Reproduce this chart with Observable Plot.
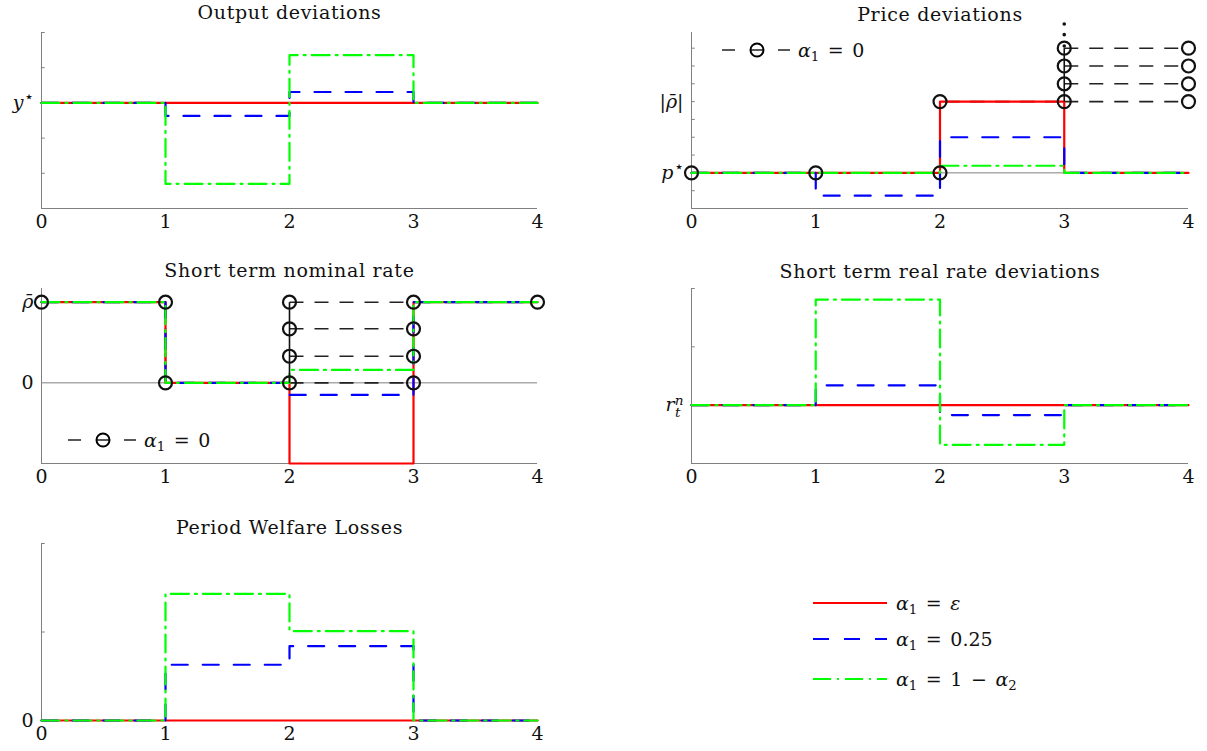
<!DOCTYPE html>
<html><head><meta charset="utf-8">
<script src="https://cdn.jsdelivr.net/npm/d3@7"></script>
<script src="https://cdn.jsdelivr.net/npm/@observablehq/plot@0.6"></script>
<style>
body{margin:0;background:#fff;}
#root{position:relative;width:1207px;height:751px;font-family:"DejaVu Serif";color:#000;overflow:hidden;}
.leg{position:absolute;display:flex;align-items:center;font-size:19px;white-space:nowrap;font-family:"DejaVu Serif";color:#111;}
.leg sub{font-size:0.7em;vertical-align:-0.3em;line-height:0;}
.leg i{font-style:italic;}
.leg .eq{margin:0 0.45em;}
g[aria-label="text"] text{letter-spacing:0.7px;}
</style></head><body><div id="root"></div>
<script>
// ---------- data ----------
const periods = [0, 1, 2, 3, 4];
const xTicks = [0, 1, 2, 3, 4];

// Output deviations
const outTicks = [0];
const outLabels = ["y⋆"];
const outMinor = [-2, -1, 0, 1, 2];
const outRed   = [0, 0, 0, 0, 0];
const outBlue  = [0, -0.37, 0.31, 0, 0];
const outGreen = [0, -2.30, 1.36, 0, 0];

// Price deviations
const priceTicks = [0, 1];
const priceLabels = ["p⋆", "|ρ̄|"];
const priceMinor = [-0.25, 0, 0.25, 0.5, 0.75, 1, 1.25, 1.5, 1.75];
const priceRed   = [0, 0, 1, 0, 0];
const priceBlue  = [0, -0.32, 0.5, 0, 0];
const priceGreen = [0, 0, 0.1, 0, 0];
const priceBlackT = [0, 1, 2, 3];
const priceBlack  = [0, 0, 1, 1];
const priceBranchLevels = [1, 1.25, 1.5, 1.75];
const priceBranchFrom = 3, priceBranchTo = 4;
const priceDots = [1.78, 1.94, 2.09];
const priceCircleX = [0, 1, 2, 2, 3, 3, 3, 3, 4, 4, 4, 4];
const priceCircleY = [0, 0, 0, 1, 1, 1.25, 1.5, 1.75, 1, 1.25, 1.5, 1.75];

// Short term nominal rate
const nomTicks = [0, 1];
const nomLabels = ["0", "ρ̄"];
const nomMinor = [];
const nomRed   = [1, 0, -1, 1, 1];
const nomBlue  = [1, 0, -0.15, 1, 1];
const nomGreen = [1, 0, 0.16, 1, 1];
const nomBlackT = [0, 1, 2];
const nomBlack  = [1, 0, 0];
const nomBranchLevels = [0, 0.33, 0.67, 1];
const nomBranchFrom = 2, nomBranchTo = 3;
const nomTailT = [3, 4];
const nomTail  = [1, 1];
const nomCircleX = [0, 1, 1, 2, 2, 2, 2, 3, 3, 3, 3, 4];
const nomCircleY = [1, 1, 0, 0, 0.33, 0.67, 1, 0, 0.33, 0.67, 1, 1];

// Short term real rate deviations
const realTicks = [0];
const realLabels = ["rtn"];
const realMinor = [-1, 0, 1, 2];
const realRed   = [0, 0, 0, 0, 0];
const realBlue  = [0, 0.34, -0.17, 0, 0];
const realGreen = [0, 1.81, -0.68, 0, 0];

// Period welfare losses
const welTicks = [0];
const welLabels = ["0"];
const welMinor = [0, 1, 2];
const welRed   = [0, 0, 0, 0, 0];
const welBlue  = [0, 0.63, 0.84, 0, 0];
const welGreen = [0, 1.43, 1.01, 0, 0];

// ---------- styles ----------
const RED = "#ff0000", BLUE = "#0000ff", GREEN = "#00ff00", AXIS = "#808080", BLACK = "#111";
const styleRed = {stroke: RED, strokeWidth: 2.2};
const styleBlue = {stroke: BLUE, strokeWidth: 2.2, strokeDasharray: "16,15"};
const styleGreen = {stroke: GREEN, strokeWidth: 2.2, strokeDasharray: "18,6,2,6"};

const root = document.getElementById("root");

function rows(xs, ys) { return xs.map((x, i) => ({x, y: ys[i]})); }

function richLabel(el, label) {
  const s = d3.select(el);
  s.text("");
  const it = (txt) => s.append("tspan").attr("font-style", "italic").text(txt);
  if (label === "y⋆" || label === "p⋆") {
    it(label[0]);
    s.append("tspan").attr("dy", "-0.45em").attr("font-size", "0.85em").text("⋆");
  } else if (label === "|ρ̄|") {
    s.append("tspan").text("|");
    it("ρ̄");
    s.append("tspan").text("|");
  } else if (label === "ρ̄") {
    it("ρ̄");
  } else if (label === "rtn") {
    it("r");
    s.append("tspan").attr("font-style", "italic").attr("font-size", "0.72em").attr("dy", "-0.45em").text("n");
    s.append("tspan").attr("font-style", "italic").attr("font-size", "0.72em").attr("dx", "-0.62em").attr("dy", "0.85em").text("t");
  } else {
    s.text(label);
  }
}

function panel(cfg) {
  const {left, top, width, height, ml, mr, mt, mb, yDomain, title, titleDy,
         ticks, labels, minor, zero, red, blue, green, extra = []} = cfg;
  const marks = [
    Plot.ruleX([0], {stroke: AXIS, strokeWidth: 1}),
    Plot.ruleY([yDomain[0]], {stroke: AXIS, strokeWidth: 1}),
    ...(zero ? [Plot.ruleY([0], {stroke: AXIS, strokeWidth: 1})] : []),
    Plot.ruleY(minor, {x1: 0, x2: 0.03, stroke: AXIS, strokeWidth: 1}),
    ...extra.filter(m => m.layer === "under").map(m => m.mark),
    Plot.line(rows(periods, red), {x: "x", y: "y", curve: "step-after", ...styleRed}),
    Plot.line(rows(periods, blue), {x: "x", y: "y", curve: "step-after", ...styleBlue}),
    Plot.line(rows(periods, green), {x: "x", y: "y", curve: "step-after", ...styleGreen}),
    ...extra.filter(m => m.layer === "over").map(m => m.mark),
    Plot.text([title], {frameAnchor: "top", lineAnchor: "middle", dy: titleDy, fontSize: 19, fill: "#111"})
  ];
  const chart = Plot.plot({
    width, height, marginLeft: ml, marginRight: mr, marginTop: mt, marginBottom: mb,
    style: {fontFamily: "DejaVu Serif", fontSize: "19px", background: "transparent", overflow: "visible", color: "#111"},
    x: {domain: [0, 4], ticks: xTicks, tickSize: 0, tickPadding: 6, label: null, tickFormat: d => String(d)},
    y: {domain: yDomain, ticks, tickSize: 0, tickPadding: 8, label: null,
        tickFormat: d => labels[ticks.indexOf(d)]},
    marks
  });
  chart.style.position = "absolute";
  chart.style.left = left + "px";
  chart.style.top = top + "px";
  chart.querySelectorAll('g[aria-label="y-axis tick label"] text').forEach(el => {
    richLabel(el, el.textContent);
  });
  root.appendChild(chart);
}

function blackMarks(pathT, pathY, levels, from, to, cx, cy, dots, tailT, tailY) {
  const dash = {stroke: "#222", strokeWidth: 1.6, strokeDasharray: "14,11"};
  const list = [
    {layer: "under", mark: Plot.line(rows(pathT, pathY), {x: "x", y: "y", curve: "step-after", ...dash})},
    {layer: "under", mark: Plot.link(levels, {x1: () => from, x2: () => to, y1: d => d, y2: d => d, ...dash})},
    {layer: "over", mark: Plot.link([levels], {x1: () => from, x2: () => from, y1: d => d3.min(d), y2: d => d3.max(d), stroke: BLACK, strokeWidth: 1.6})},
    {layer: "over", mark: Plot.dot(rows(cx, cy), {x: "x", y: "y", r: 6.5, stroke: BLACK, strokeWidth: 2.2, fill: "none"})}
  ];
  if (tailT) list.push({layer: "under", mark: Plot.line(rows(tailT, tailY), {x: "x", y: "y", ...dash})});
  if (dots) list.push({layer: "over", mark: Plot.dot(dots, {x: () => from, y: d => d, r: 1.8, fill: BLACK})});
  return list;
}

panel({left: 0, top: 0, width: 580, height: 240, ml: 41, mr: 43, mt: 32, mb: 32,
  yDomain: [-3, 2], title: "Output deviations", titleDy: -20,
  ticks: outTicks, labels: outLabels, minor: outMinor, zero: false,
  red: outRed, blue: outBlue, green: outGreen});

panel({left: 620, top: 0, width: 587, height: 240, ml: 71, mr: 19, mt: 32, mb: 32,
  yDomain: [-0.5, 1.97], title: "Price deviations", titleDy: -18,
  ticks: priceTicks, labels: priceLabels, minor: priceMinor, zero: true,
  red: priceRed, blue: priceBlue, green: priceGreen,
  extra: blackMarks(priceBlackT, priceBlack, priceBranchLevels, priceBranchFrom, priceBranchTo,
                    priceCircleX, priceCircleY, priceDots)});

panel({left: 0, top: 256, width: 580, height: 240, ml: 41, mr: 43, mt: 32, mb: 33,
  yDomain: [-1, 1.17], title: "Short term nominal rate", titleDy: -18,
  ticks: nomTicks, labels: nomLabels, minor: nomMinor, zero: true,
  red: nomRed, blue: nomBlue, green: nomGreen,
  extra: blackMarks(nomBlackT, nomBlack, nomBranchLevels, nomBranchFrom, nomBranchTo,
                    nomCircleX, nomCircleY, null, nomTailT, nomTail)});

panel({left: 620, top: 256, width: 587, height: 240, ml: 71, mr: 19, mt: 32, mb: 33,
  yDomain: [-1, 2], title: "Short term real rate deviations", titleDy: -17,
  ticks: realTicks, labels: realLabels, minor: realMinor, zero: false,
  red: realRed, blue: realBlue, green: realGreen});

panel({left: 0, top: 512, width: 580, height: 239, ml: 41, mr: 43, mt: 31, mb: 31,
  yDomain: [0, 2], title: "Period Welfare Losses", titleDy: -16,
  ticks: welTicks, labels: welLabels, minor: welMinor, zero: false,
  red: welRed, blue: welBlue, green: welGreen});

// ---------- legends ----------
function addLegend(left, top, svgInner, svgW, html, gap) {
  const d = document.createElement("div");
  d.className = "leg";
  d.style.left = left + "px";
  d.style.top = top + "px";
  d.innerHTML = `<svg width="${svgW}" height="24" style="overflow:visible">${svgInner}</svg><span style="margin-left:${gap}px">${html}</span>`;
  root.appendChild(d);
}
const zeroSample = `<line x1="2" x2="70" y1="12" y2="12" stroke="#222" stroke-width="1.6" stroke-dasharray="13,15"/><circle cx="37" cy="12" r="6.5" fill="none" stroke="#000" stroke-width="2"/>`;
const zeroText = `<i>α</i><sub>1</sub><span class="eq">=</span>0`;
addLegend(720, 38, zeroSample, 72, zeroText, 6);
addLegend(66, 428, zeroSample, 72, zeroText, 6);

const lineSample = (s) => `<line x1="2" x2="76" y1="12" y2="12" stroke="${s.stroke}" stroke-width="2.2" ${s.strokeDasharray ? `stroke-dasharray="${s.strokeDasharray}"` : ""}/>`;
addLegend(811, 591, lineSample(styleRed), 78, `<i>α</i><sub>1</sub><span class="eq">=</span><i>ε</i>`, 7);
addLegend(811, 627, lineSample(styleBlue), 78, `<i>α</i><sub>1</sub><span class="eq">=</span>0.25`, 7);
addLegend(811, 667, lineSample(styleGreen), 78, `<i>α</i><sub>1</sub><span class="eq">=</span>1<span class="eq">−</span><i>α</i><sub>2</sub>`, 7);
</script></body></html>
